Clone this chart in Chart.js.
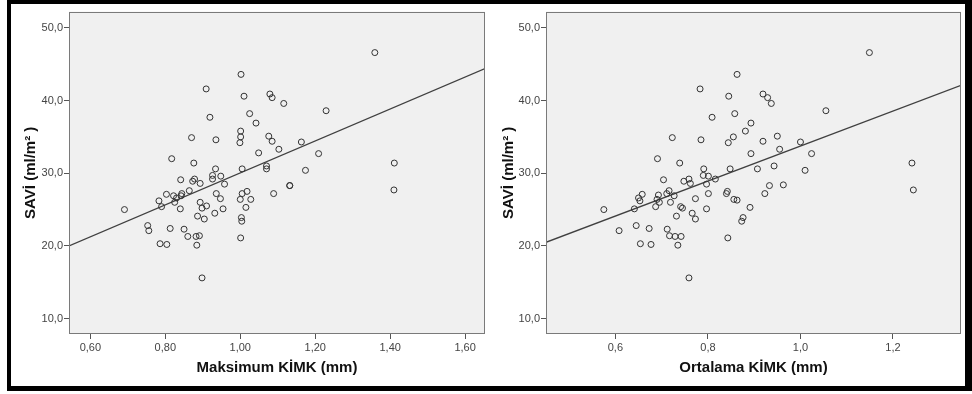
<!DOCTYPE html>
<html><head><meta charset="utf-8">
<script src="https://cdn.jsdelivr.net/npm/chart.js@4.4.1/dist/chart.umd.min.js"></script>
<style>
html,body{margin:0;padding:0;background:#fff;}
#page{position:relative;width:972px;height:394px;overflow:hidden;background:#fff;}
.bar{position:absolute;background:#000;}
canvas{position:absolute;}
</style></head><body>
<div id="page">
  <canvas id="c1" width="479" height="382" style="left:11px;top:4px"></canvas>
  <canvas id="c2" width="475" height="382" style="left:490px;top:4px"></canvas>
  <div class="bar" style="left:7px;top:0;width:965px;height:4px"></div>
  <div class="bar" style="left:7px;top:0;width:4px;height:391px"></div>
  <div class="bar" style="left:965px;top:0;width:7px;height:391px"></div>
  <div class="bar" style="left:7px;top:386px;width:965px;height:5px"></div>
</div>
<script>
// ---- data ----
const maxKimk = [1.359,1.002,0.909,1.010,1.079,1.085,1.116,1.229,1.025,0.919,
  1.042,1.001,0.870,1.001,0.935,0.999,1.076,1.085,1.163,1.103,
  1.209,1.049,0.817,0.876,1.411,0.934,1.005,1.070,1.070,1.174,
  0.841,0.926,0.926,0.948,0.878,0.873,0.893,0.958,1.132,1.132,
  0.864,0.803,0.822,0.844,0.842,0.830,0.783,0.825,0.790,0.936,
  1.005,1.018,1.089,1.410,1.000,1.028,0.947,0.893,0.898,0.910,
  0.954,1.015,0.840,0.691,0.932,0.886,0.904,1.003,1.004,0.753,
  0.756,0.813,0.850,0.860,0.882,0.891,1.001,0.786,0.804,0.884,
  0.898];
const saviMax = [46.6,43.6,41.6,40.6,40.9,40.4,39.6,38.6,38.2,37.7,
  36.9,35.8,34.9,35.0,34.6,34.2,35.1,34.4,34.3,33.3,
  32.7,32.8,32.0,31.4,31.4,30.6,30.6,31.0,30.6,30.4,
  29.1,29.7,29.2,29.6,29.2,28.9,28.6,28.5,28.3,28.3,
  27.6,27.1,26.9,27.2,26.9,26.6,26.2,26.0,25.4,27.2,
  27.2,27.5,27.2,27.7,26.4,26.4,26.5,26.0,25.2,25.5,
  25.1,25.3,25.1,25.0,24.5,24.1,23.7,23.9,23.4,22.8,
  22.1,22.4,22.3,21.3,21.3,21.4,21.1,20.3,20.2,20.1,
  15.6];
const ortKimk = [1.149,0.863,0.783,0.845,0.919,0.929,0.937,1.055,0.858,0.809,
  0.893,0.881,0.723,0.855,0.785,0.844,0.950,0.919,1.000,0.955,
  1.024,0.893,0.691,0.739,1.241,0.791,0.848,0.943,0.907,1.010,
  0.704,0.790,0.759,0.801,0.816,0.748,0.762,0.797,0.933,0.963,
  0.716,0.658,0.693,0.711,0.727,0.650,0.653,0.719,0.687,0.801,
  0.840,0.842,0.923,1.244,0.690,0.863,0.773,0.695,0.741,0.745,
  0.797,0.891,0.641,0.575,0.766,0.732,0.773,0.876,0.873,0.645,
  0.608,0.673,0.712,0.717,0.729,0.742,0.843,0.654,0.677,0.735,
  0.759,0.856];
const saviOrt = [46.6,43.6,41.6,40.6,40.9,40.4,39.6,38.6,38.2,37.7,
  36.9,35.8,34.9,35.0,34.6,34.2,35.1,34.4,34.3,33.3,
  32.7,32.7,32.0,31.4,31.4,30.6,30.6,31.0,30.6,30.4,
  29.1,29.7,29.2,29.6,29.2,28.9,28.6,28.5,28.3,28.4,
  27.6,27.1,27.0,27.2,26.9,26.6,26.2,26.0,25.4,27.2,
  27.2,27.5,27.2,27.7,26.4,26.3,26.5,26.0,25.4,25.2,
  25.1,25.3,25.1,25.0,24.5,24.1,23.7,23.9,23.4,22.8,
  22.1,22.4,22.3,21.4,21.3,21.3,21.1,20.3,20.2,20.1,
  15.6,26.4];
// fit lines: end points at the axis edges
const fitMaxX = [0.543, 1.653];
const fitMaxY = [20.0, 44.4];
const fitOrtX = [0.450, 1.347];
const fitOrtY = [20.5, 42.1];
// ticks
const yTicks = [10, 20, 30, 40, 50];
const xTicksMax = [0.6, 0.8, 1.0, 1.2, 1.4, 1.6];
const xTicksOrt = [0.6, 0.8, 1.0, 1.2];
const yTitle = 'SAVİ (ml/m² )';
const xTitleMax = 'Maksimum KİMK (mm)';
const xTitleOrt = 'Ortalama KİMK (mm)';

const FONT = 'Arial, "Liberation Sans", sans-serif';

const boxPlugin = {
  id: 'box',
  beforeDraw(chart) {
    const a = chart.chartArea, c = chart.ctx;
    c.save();
    c.fillStyle = '#f0f0f0';
    c.fillRect(a.left, a.top, a.right - a.left, a.bottom - a.top);
    c.restore();
  },
  afterDraw(chart) {
    const a = chart.chartArea, c = chart.ctx;
    c.save();
    c.strokeStyle = '#7a7a7a';
    c.lineWidth = 1;
    c.strokeRect(Math.round(a.left) + 0.5, Math.round(a.top) + 0.5,
      Math.round(a.right - a.left) - 1, Math.round(a.bottom - a.top) - 1);
    c.restore();
  }
};

function makeChart(id, xs, ys, fx, fy, xMin, xMax, xTicks, xDec, xTitle, yWidth, yTitlePad, rightPad) {
  const pts = xs.map((x, i) => ({x: x, y: ys[i]}));
  const line = fx.map((x, i) => ({x: x, y: fy[i]}));
  new Chart(document.getElementById(id), {
    type: 'scatter',
    data: {
      datasets: [
        {
          data: pts,
          pointRadius: 3,
          pointBorderWidth: 1,
          pointBorderColor: '#333',
          pointBackgroundColor: 'rgba(0,0,0,0)',
          pointHoverRadius: 3
        },
        {
          type: 'line',
          data: line,
          borderColor: '#404040',
          borderWidth: 1.3,
          pointRadius: 0,
          fill: false
        }
      ]
    },
    options: {
      responsive: false,
      animation: false,
      devicePixelRatio: 1,
      layout: {padding: {top: 2, right: rightPad, left: 0, bottom: 0}},
      plugins: {legend: {display: false}, tooltip: {enabled: false}},
      scales: {
        x: {
          type: 'linear',
          min: xMin, max: xMax,
          afterBuildTicks: s => { s.ticks = xTicks.map(v => ({value: v})); },
          afterFit: s => { s.height = 52; },
          ticks: {
            callback: v => Number(v).toFixed(xDec).replace('.', ','),
            font: {family: FONT, size: 11},
            color: '#444',
            padding: 2,
            maxRotation: 0,
            autoSkip: false
          },
          grid: {drawOnChartArea: false, drawTicks: true, tickLength: 5, color: '#555'},
          border: {display: false},
          title: {
            display: true, text: xTitle, color: '#111',
            font: {family: FONT, size: 15, weight: 'bold'},
            padding: {top: 0, bottom: 9}
          }
        },
        y: {
          type: 'linear',
          min: 7.88, max: 52.24,
          afterBuildTicks: s => { s.ticks = yTicks.map(v => ({value: v})); },
          afterFit: s => { s.width = yWidth; },
          ticks: {
            callback: v => Number(v).toFixed(1).replace('.', ','),
            font: {family: FONT, size: 11},
            color: '#444',
            padding: 1
          },
          grid: {drawOnChartArea: false, drawTicks: true, tickLength: 5, color: '#555'},
          border: {display: false},
          title: {
            display: true, text: yTitle, color: '#111',
            font: {family: FONT, size: 15, weight: 'bold'},
            padding: {top: yTitlePad, bottom: 0}
          }
        }
      }
    },
    plugins: [boxPlugin]
  });
}

makeChart('c1', maxKimk, saviMax, fitMaxX, fitMaxY, 0.543, 1.653, xTicksMax, 2, xTitleMax, 58, 11, 5);
makeChart('c2', ortKimk, saviOrt, fitOrtX, fitOrtY, 0.450, 1.347, xTicksOrt, 1, xTitleOrt, 56, 9.5, 2);
</script>
</body></html>
